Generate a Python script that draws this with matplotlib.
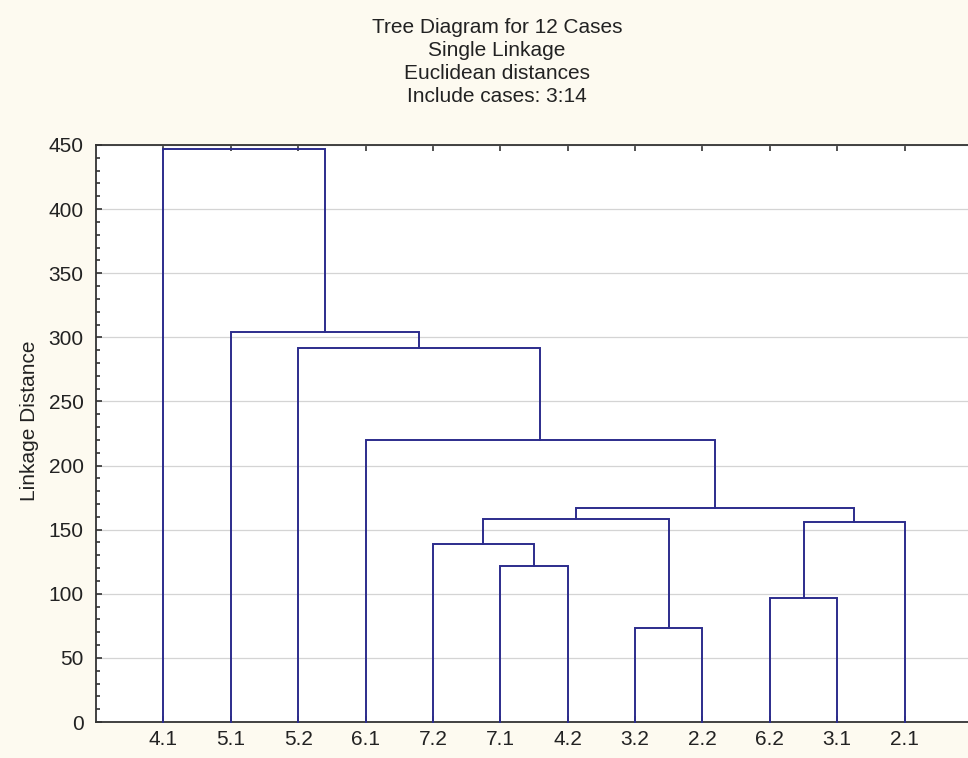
import matplotlib.pyplot as plt
from matplotlib.ticker import MultipleLocator

# leaf labels in dendrogram order
leaves = ["4.1", "5.1", "5.2", "6.1", "7.2", "7.1", "4.2", "3.2", "2.2", "6.2", "3.1", "2.1"]
# merges: (child a, child b, linkage distance); ids >= 12 refer to earlier merges
merge_a = [5, 7, 9, 4, 14, 15, 17, 3, 2, 1, 0]
merge_b = [6, 8, 10, 12, 11, 13, 16, 18, 19, 20, 21]
merge_h = [122, 73, 97, 139, 156, 158, 167, 220, 292, 304, 447]

title = "Tree Diagram for 12 Cases\nSingle Linkage\nEuclidean distances\nInclude cases: 3:14"

plt.rcParams['font.family'] = ['Liberation Sans', 'DejaVu Sans']
bg = '#fdfaf0'
line_col = '#2c2c8c'

fig = plt.figure(figsize=(9.68, 7.58), dpi=100, facecolor=bg)
ax = fig.add_axes([96 / 968, 1 - 722 / 758, 876 / 968, 577 / 758])
ax.set_facecolor('white')

n = len(leaves)
xpos = [i + 1 for i in range(n)]
ypos = [0.0] * n
for a, b, h in zip(merge_a, merge_b, merge_h):
    xa, xb = xpos[a], xpos[b]
    ax.plot([xa, xa, xb, xb], [ypos[a], h, h, ypos[b]], color=line_col, lw=1.4,
            solid_joinstyle='miter', zorder=3, clip_on=False)
    xpos.append((xa + xb) / 2)
    ypos.append(h)

ax.set_xlim(0, 13)
ax.set_ylim(0, 450)
ax.set_xticks(range(1, n + 1))
ax.set_xticklabels(leaves)
ax.yaxis.set_major_locator(MultipleLocator(50))
ax.yaxis.set_minor_locator(MultipleLocator(10))
ax.grid(axis='y', which='major', color='#d4d4d4', lw=0.9, zorder=0)
ax.set_axisbelow(True)

ax.tick_params(axis='both', which='both', direction='in', top=True, right=False,
               labelsize=15, colors='#333333', labelcolor='#222222')
ax.tick_params(axis='y', which='major', length=4, width=1.2, pad=9)
ax.tick_params(axis='y', which='minor', length=3, width=1.2)
ax.tick_params(axis='x', which='major', length=4, width=1.2, pad=6)
for s in ax.spines.values():
    s.set_color('#333333')
    s.set_linewidth(1.3)

fig.text(30 / 968, 1 - 421 / 758, "Linkage Distance", rotation=90, fontsize=15,
         color='#222222', ha='center', va='center')
fig.text(497 / 968, 1 - 18 / 758, title, fontsize=15, color='#222222',
         ha='center', va='top', linespacing=1.26)

fig.savefig('out.png', dpi=100, facecolor=bg)
